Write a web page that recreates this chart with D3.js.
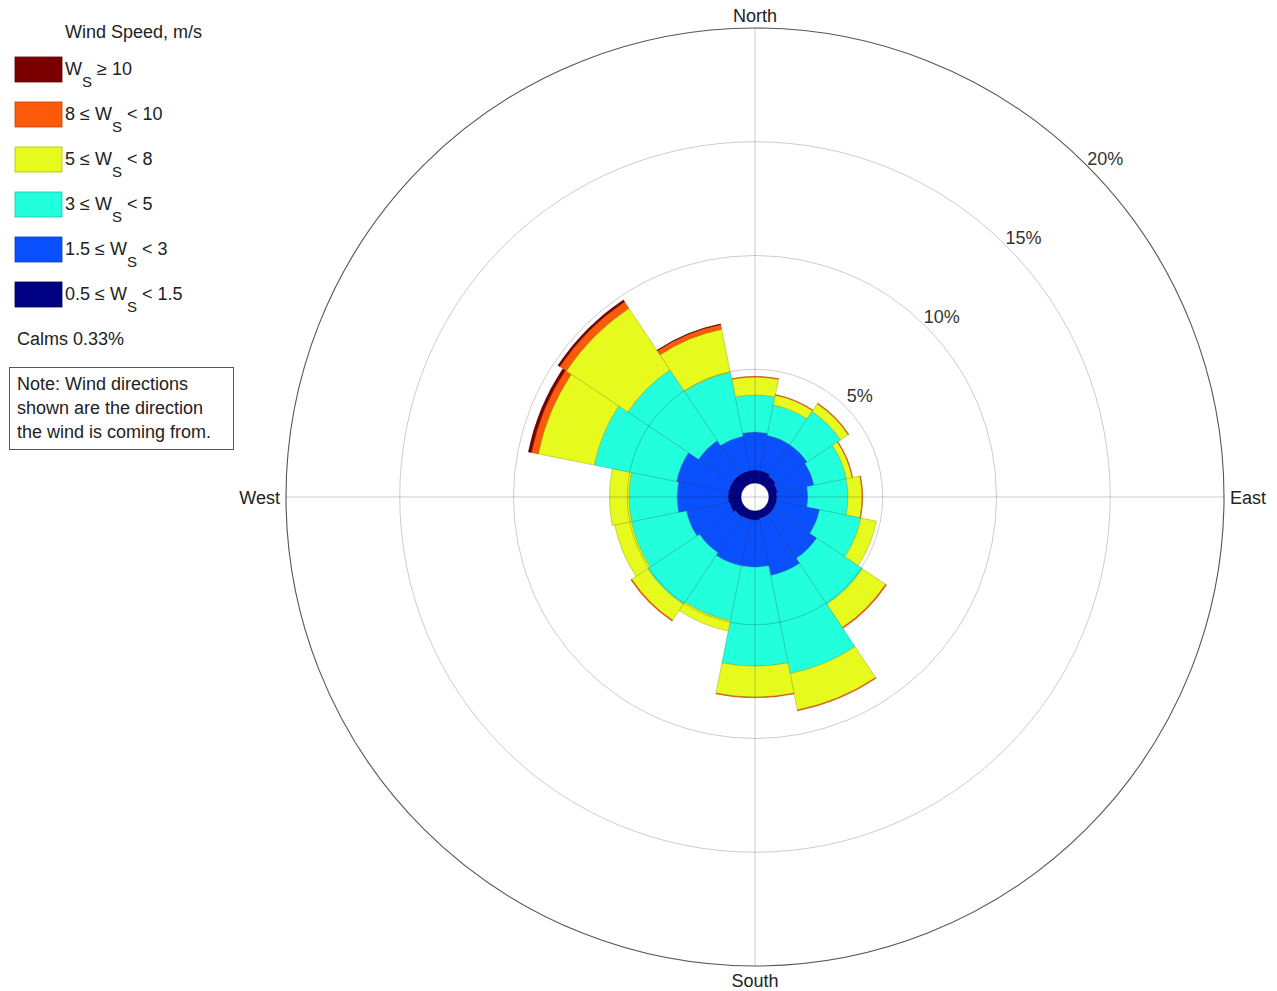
<!DOCTYPE html>
<html>
<head>
<meta charset="utf-8">
<script src="https://cdn.jsdelivr.net/npm/d3@7"></script>
<style>
  html, body { margin: 0; padding: 0; background: #fff; }
  text { font-family: "Liberation Sans", Arial, Helvetica, sans-serif; fill: #222; }
</style>
</head>
<body>
<svg id="chart" width="1277" height="991"></svg>
<script>
// ---- data ----
const directions = ["N","NNE","NE","ENE","E","ESE","SE","SSE","S","SSW","SW","WSW","W","WNW","NW","NNW"];
const directionAngles = [0,22.5,45,67.5,90,112.5,135,157.5,180,202.5,225,247.5,270,292.5,315,337.5];
const speedBins = ["0.5-1.5","1.5-3","3-5","5-8","8-10",">=10"];
// frequency (%) of each speed bin per direction
const ws05_15 = [0.57,0.57,0.48,0.40,0.35,0.35,0.35,0.35,0.40,0.40,0.44,0.53,0.57,0.57,0.57,0.57];
const ws15_3  = [1.67,1.58,1.67,1.63,1.36,1.93,2.29,2.55,2.07,2.07,1.89,1.93,2.24,2.33,1.80,1.54];
const ws3_5   = [1.63,1.36,1.76,1.45,1.76,1.85,2.42,4.40,4.35,2.46,2.73,2.46,2.11,3.69,3.74,2.86];
const ws5_8   = [0.79,0.44,0.40,0.26,0.62,0.70,1.23,1.63,1.36,0.46,0.84,0.75,0.86,2.51,3.25,1.93];
const ws8_10  = [0.03,0.03,0.04,0.03,0.03,0.00,0.05,0.04,0.03,0.00,0.05,0.00,0.00,0.31,0.35,0.22];
const ws10    = [0.00,0.00,0.00,0.00,0.00,0.00,0.00,0.00,0.00,0.00,0.00,0.00,0.00,0.13,0.09,0.02];
const ringTicks = [5,10,15,20];
const ringLabels = ["5%","10%","15%","20%"];
const legendLabels = [
  ["", "W", "S", " \u2265 10"],
  ["8 \u2264 ", "W", "S", " < 10"],
  ["5 \u2264 ", "W", "S", " < 8"],
  ["3 \u2264 ", "W", "S", " < 5"],
  ["1.5 \u2264 ", "W", "S", " < 3"],
  ["0.5 \u2264 ", "W", "S", " < 1.5"]
];
const legendTitle = "Wind Speed, m/s";
const calmsText = "Calms 0.33%";
const noteLines = ["Note: Wind directions", "shown are the direction", "the wind is coming from."];
const colors = ["#000082", "#0a50ff", "#22ffdc", "#e6fa1e", "#fa5a0a", "#7a0000"];

// ---- layout ----
const svg = d3.select("#chart");
const cx = 755, cy = 497;
const r = d3.scaleLinear().domain([0, 20]).range([14, 469]);
const halfWidth = 11.25 * Math.PI / 180;
const series = [ws05_15, ws15_3, ws3_5, ws5_8, ws8_10, ws10];

const g = svg.append("g").attr("transform", `translate(${cx},${cy})`);

// bars (stacked)
const arc = d3.arc();
directions.forEach((d, i) => {
  let cum = 0;
  const a = directionAngles[i] * Math.PI / 180;
  series.forEach((s, k) => {
    const v = s[i];
    if (v <= 0) return;
    g.append("path")
      .attr("d", arc({innerRadius: r(cum), outerRadius: r(cum + v), startAngle: a - halfWidth, endAngle: a + halfWidth}))
      .attr("fill", colors[k])
      .attr("stroke", d3.color(colors[k]).darker(1.0))
      .attr("stroke-width", 0.7)
      .attr("stroke-opacity", k === 4 ? 0.5 : 0.75);
    cum += v;
  });
});

// grid on top
ringTicks.forEach((t, i) => {
  g.append("circle")
    .attr("r", r(t))
    .attr("fill", "none")
    .attr("stroke", i === ringTicks.length - 1 ? "#555" : "rgba(0,0,0,0.2)")
    .attr("stroke-width", i === ringTicks.length - 1 ? 1.1 : 1);
});
const R = r(20);
g.append("line").attr("x1", 0).attr("x2", 0).attr("y1", -R).attr("y2", R)
  .attr("stroke", "rgba(0,0,0,0.2)");
g.append("line").attr("y1", 0).attr("y2", 0).attr("x1", -R).attr("x2", R)
  .attr("stroke", "rgba(0,0,0,0.2)");

// ring labels
const labAng = 46 * Math.PI / 180;
ringTicks.forEach((t, i) => {
  const rr = r(t) + 18;
  g.append("text")
    .attr("x", rr * Math.sin(labAng))
    .attr("y", -rr * Math.cos(labAng))
    .attr("text-anchor", "middle")
    .attr("dominant-baseline", "central")
    .style("font-size", "18px")
    .style("fill", "#333")
    .text(ringLabels[i]);
});

// cardinal labels
const fs = "18px";
svg.append("text").attr("x", cx).attr("y", 22).attr("text-anchor", "middle").style("font-size", fs).text("North");
svg.append("text").attr("x", cx).attr("y", 987).attr("text-anchor", "middle").style("font-size", fs).text("South");
svg.append("text").attr("x", 280).attr("y", 504).attr("text-anchor", "end").style("font-size", fs).text("West");
svg.append("text").attr("x", 1230).attr("y", 504).attr("text-anchor", "start").style("font-size", fs).text("East");

// legend
svg.append("text").attr("x", 65).attr("y", 38).style("font-size", "18px").text(legendTitle);
const legendColors = colors.slice().reverse();
legendLabels.forEach((lab, i) => {
  const top = 57 + i * 45;
  svg.append("rect").attr("x", 15).attr("y", top).attr("width", 47).attr("height", 25)
    .attr("fill", legendColors[i])
    .attr("stroke", d3.color(legendColors[i]).darker(0.8))
    .attr("stroke-width", 0.8);
  const t = svg.append("text").attr("x", 65).attr("y", top + 18).style("font-size", "18px");
  t.append("tspan").text(lab[0]);
  t.append("tspan").text(lab[1]);
  t.append("tspan").attr("dy", 12).style("font-size", "15px").text(lab[2]);
  t.append("tspan").attr("dy", -12).text(lab[3]);
});
svg.append("text").attr("x", 17).attr("y", 345).style("font-size", "18px").text(calmsText);
svg.append("rect").attr("x", 9.5).attr("y", 367.5).attr("width", 224).attr("height", 82)
  .attr("fill", "#fff").attr("stroke", "#555").attr("stroke-width", 1);
noteLines.forEach((l, i) => {
  svg.append("text").attr("x", 17).attr("y", 390 + i * 24).style("font-size", "18px").text(l);
});
</script>
</body>
</html>
